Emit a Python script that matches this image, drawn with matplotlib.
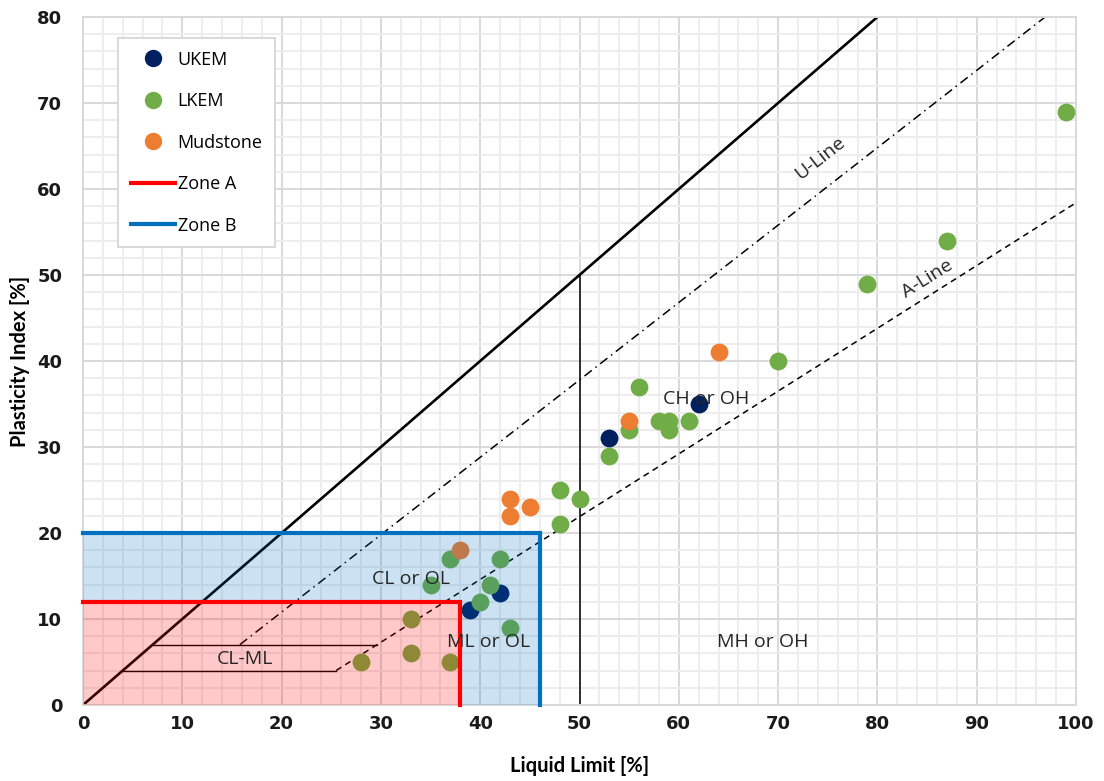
import numpy as np
import matplotlib.pyplot as plt
from matplotlib.lines import Line2D
from matplotlib.patches import Polygon

# data ------------------------------------------------------------------
ukem_ll = [62, 53, 42, 39]
ukem_pi = [35, 31, 13, 11]

lkem_ll = [99, 87, 79, 70, 56, 55, 58, 59, 59, 61, 53, 48, 50, 48,
           42, 37, 35, 41, 40, 43, 33, 28, 33, 37]
lkem_pi = [69, 54, 49, 40, 37, 32, 33, 33, 32, 33, 29, 25, 24, 21,
           17, 17, 14, 14, 12, 9, 10, 5, 6, 5]

mud_ll = [64, 55, 43, 43, 45, 38]
mud_pi = [41, 33, 24, 22, 23, 18]

zone_a = (38, 12)  # LL limit, PI limit
zone_b = (46, 20)

# chart lines ------------------------------------------------------------
u_ll = np.array([15.8, 96.9])
u_pi = 0.9*(u_ll-8)  # U-line
a_ll = np.array([25.5, 100])
a_pi = 0.73*(a_ll-20)  # A-line

fig = plt.figure(figsize=(11.04, 7.81), dpi=100)
ax = fig.add_axes([83/1104, 76/781, 993/1104, 688/781])

ms = 165
ax.scatter(ukem_ll, ukem_pi, s=ms, color='#002060', zorder=3, linewidths=0)
ax.scatter(lkem_ll, lkem_pi, s=ms, color='#70AD47', zorder=3, linewidths=0)
ax.scatter(mud_ll, mud_pi, s=ms, color='#ED7D31', zorder=3, linewidths=0)

ax.plot([0, 80], [0, 80], color='black', lw=1.9, zorder=2)
ax.plot([50, 50], [0, 50], color='black', lw=1.1, zorder=2)
ax.plot(u_ll, u_pi, color='black', lw=1.1, dashes=(6, 3, 1, 3), zorder=2)
ax.plot(a_ll, a_pi, color='black', lw=1.1, dashes=(4, 3), zorder=2)
ax.plot([7, 29.6], [7, 7], color='black', lw=1.0, zorder=2)
ax.plot([4, 25.5], [4, 4], color='black', lw=1.0, zorder=2)

# zone fills sit on top of the points, like the original
xa, ya = zone_a
xb, yb = zone_b
ax.add_patch(Polygon([[0, ya], [0, yb], [xb, yb], [xb, 0], [xa, 0], [xa, ya]],
                     closed=True, facecolor='#0070C0', alpha=0.2, lw=0, zorder=4))
ax.add_patch(Polygon([[0, 0], [0, ya], [xa, ya], [xa, 0]],
                     closed=True, facecolor='#FF0000', alpha=0.21, lw=0, zorder=4))
ax.plot([0, xb, xb], [yb, yb, 0], color='#0070C0', lw=3, zorder=5,
        solid_joinstyle='miter', clip_on=False)
ax.plot([0, xa, xa], [ya, ya, 0], color='#FF0000', lw=3, zorder=5,
        solid_joinstyle='miter', clip_on=False)

tfont = dict(fontsize=14, family='Open Sans', color='#262626', zorder=6)
ax.text(33, 14.6, 'CL or OL', ha='center', va='center', **tfont)
ax.text(40.8, 7.3, 'ML or OL', ha='center', va='center', **tfont)
ax.text(68.4, 7.3, 'MH or OH', ha='center', va='center', **tfont)
ax.text(62.8, 35.6, 'CH or OH', ha='center', va='center', **tfont)
ax.text(16.3, 5.4, 'CL-ML', ha='center', va='center', **tfont)
ax.text(74.2, 63.6, 'U-Line', ha='center', va='center', rotation=38, **tfont)
ax.text(85.0, 49.6, 'A-Line', ha='center', va='center', rotation=32, **tfont)

ax.set_xlim(0, 100)
ax.set_ylim(0, 80)
ax.set_xticks(np.arange(0, 101, 10))
ax.set_yticks(np.arange(0, 81, 10))
ax.set_xticks(np.arange(0, 101, 2), minor=True)
ax.set_yticks(np.arange(0, 81, 2), minor=True)
ax.grid(which='minor', color='#ededed', lw=1.4, zorder=0)
ax.grid(which='major', color='#d9d9d9', lw=1.4, zorder=0)
ax.set_axisbelow(True)
ax.tick_params(which='both', length=0)
ax.tick_params(axis='x', pad=7)
ax.tick_params(axis='y', pad=15)
for lab in ax.get_xticklabels() + ax.get_yticklabels():
    lab.set_fontweight('bold')
    lab.set_fontsize(13)
    lab.set_color('#1a1a1a')
for s in ax.spines.values():
    s.set_color('#d9d9d9')
    s.set_linewidth(1.4)

ax.set_xlabel('Liquid Limit [%]', fontsize=14.5, fontweight='bold', family='Lato',
              labelpad=17)
ax.set_ylabel('Plasticity Index [%]', fontsize=14.5, fontweight='bold', family='Lato',
              labelpad=5)

handles = [
    Line2D([], [], ls='none', marker='o', ms=12.5, color='#002060', mew=0),
    Line2D([], [], ls='none', marker='o', ms=12.5, color='#70AD47', mew=0),
    Line2D([], [], ls='none', marker='o', ms=12.5, color='#ED7D31', mew=0),
    Line2D([], [], color='#FF0000', lw=3),
    Line2D([], [], color='#0070C0', lw=3),
]
leg = ax.legend(handles, ['UKEM', 'LKEM', 'Mudstone', 'Zone A', 'Zone B'],
                loc='upper left', bbox_to_anchor=(118/1104, 1-38/781),
                bbox_transform=fig.transFigure, fancybox=False, framealpha=1,
                edgecolor='#d9d9d9', prop={'family': 'Open Sans', 'size': 13},
                labelspacing=1.3, handlelength=2.45, handletextpad=0.15,
                borderpad=0.7, borderaxespad=0)
leg.get_frame().set_linewidth(1.4)
leg.set_zorder(7)

fig.savefig('out.png', dpi=100)
